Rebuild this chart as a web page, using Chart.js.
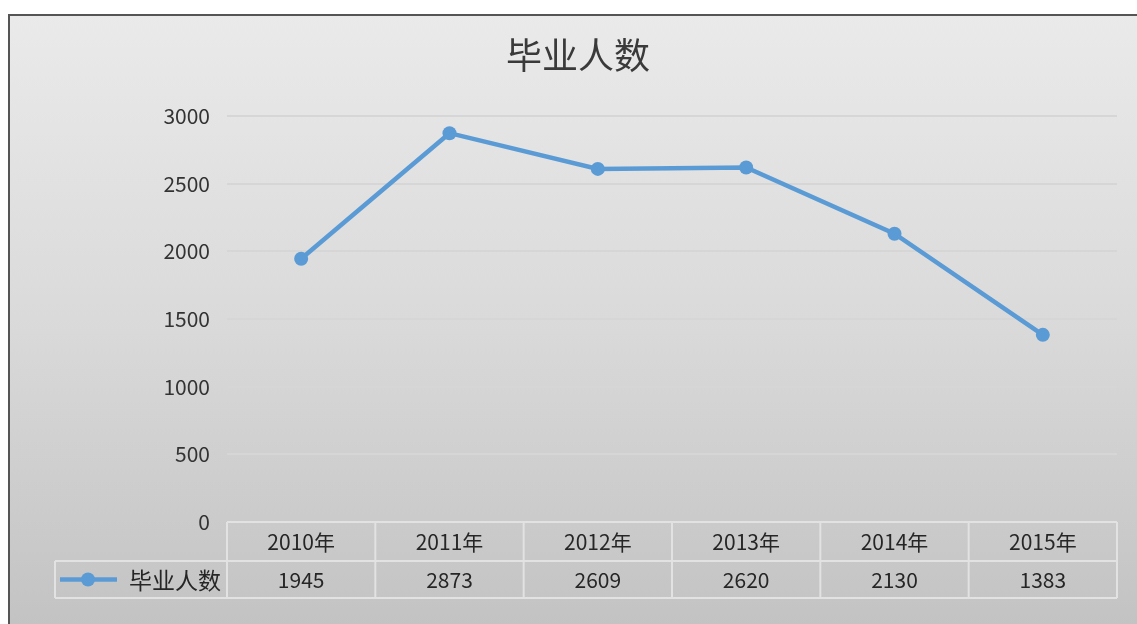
<!DOCTYPE html>
<html>
<head>
<meta charset="utf-8">
<script src="https://cdn.jsdelivr.net/npm/chart.js@4/dist/chart.umd.min.js"></script>
<style>
  html, body { margin: 0; padding: 0; background: #fff; overflow: hidden; }
  #wrap { width: 1137px; height: 624px; position: relative; }
</style>
</head>
<body>
<div id="wrap"><canvas id="grafica" width="1137" height="624"></canvas></div>
<script>
const anios = ['2010年', '2011年', '2012年', '2013年', '2014年', '2015年'];
const graduados = [1945, 2873, 2609, 2620, 2130, 1383];
const serieNombre = '毕业人数';
const titulo = '毕业人数';

const fuente = '"Noto Sans CJK SC", "Liberation Sans", sans-serif';
const azul = '#5b9bd5';

// fondo degradado, borde y titulo
const fondo = {
    id: 'fondo',
    beforeDraw(chart) {
        const c = chart.ctx;
        c.save();
        const g = c.createLinearGradient(0, 14, 0, 624);
        g.addColorStop(0, '#eaeaea');
        g.addColorStop(0.5, '#dadada');
        g.addColorStop(1, '#c3c3c3');
        c.fillStyle = g;
        c.fillRect(9, 15, 1128, 609);
        c.strokeStyle = '#555';
        c.lineWidth = 2;
        c.beginPath();
        c.moveTo(9, 624);
        c.lineTo(9, 15);
        c.lineTo(1137, 15);
        c.stroke();

        c.fillStyle = '#3a3a3a';
        c.font = '36px ' + fuente;
        c.textAlign = 'center';
        c.textBaseline = 'middle';
        c.fillText(titulo, 578, 55);
        c.restore();
    }
};

// tabla de datos debajo del eje x
const tabla = {
    id: 'tabla',
    afterDraw(chart) {
        const c = chart.ctx;
        const x = chart.scales.x;
        const area = chart.chartArea;
        const paso = x.getPixelForValue(1) - x.getPixelForValue(0);
        const izq = area.left;
        const der = x.getPixelForValue(anios.length - 1) + paso / 2;
        const y0 = area.bottom, y1 = y0 + 39, y2 = y1 + 37;
        const leyIzq = 55;

        c.save();
        c.strokeStyle = '#e2e2e2';
        c.lineWidth = 2;
        c.beginPath();
        // horizontales
        c.moveTo(izq, y0); c.lineTo(der, y0);
        c.moveTo(leyIzq, y1); c.lineTo(der, y1);
        c.moveTo(leyIzq, y2); c.lineTo(der, y2);
        // verticales
        c.moveTo(leyIzq, y1); c.lineTo(leyIzq, y2);
        for (let i = 0; i <= anios.length; i++) {
            const px = izq + i * paso;
            c.moveTo(px, y0); c.lineTo(px, y2);
        }
        c.stroke();

        c.fillStyle = '#262626';
        c.font = '21px ' + fuente;
        c.textAlign = 'center';
        c.textBaseline = 'middle';
        anios.forEach((a, i) => {
            const px = x.getPixelForValue(i);
            c.fillText(a, px, (y0 + y1) / 2 + 1);
            c.fillText(String(graduados[i]), px, (y1 + y2) / 2 + 1);
        });

        // clave de la leyenda
        const ym = (y1 + y2) / 2;
        c.strokeStyle = azul;
        c.lineWidth = 4.5;
        c.beginPath();
        c.moveTo(60, ym); c.lineTo(117, ym);
        c.stroke();
        c.fillStyle = azul;
        c.beginPath();
        c.arc(88, ym, 7, 0, Math.PI * 2);
        c.fill();
        c.fillStyle = '#262626';
        c.font = '23px ' + fuente;
        c.textAlign = 'right';
        c.fillText(serieNombre, 221, ym + 1);
        c.restore();
    }
};

new Chart(document.getElementById('grafica'), {
    type: 'line',
    data: {
        labels: anios,
        datasets: [{
            label: serieNombre,
            data: graduados,
            borderColor: azul,
            backgroundColor: azul,
            borderWidth: 4.5,
            pointRadius: 7,
            pointHoverRadius: 7,
            pointBorderWidth: 0,
            tension: 0
        }]
    },
    options: {
        responsive: false,
        animation: false,
        devicePixelRatio: 1,
        layout: {
            padding: { left: 0, right: 20, top: 116, bottom: 102 }
        },
        scales: {
            x: {
                display: false,
                offset: true
            },
            y: {
                min: 0,
                max: 3000,
                afterFit(scale) { scale.width = 227; },
                ticks: {
                    stepSize: 500,
                    color: '#333',
                    padding: 17,
                    font: { family: fuente, size: 21 },
                    callback: v => String(v)
                },
                grid: {
                    color: '#d6d6d6',
                    lineWidth: 2,
                    drawTicks: false
                },
                border: { display: false }
            }
        },
        plugins: {
            legend: { display: false },
            tooltip: { enabled: false },
            title: { display: false }
        }
    },
    plugins: [fondo, tabla]
});
</script>
</body>
</html>
